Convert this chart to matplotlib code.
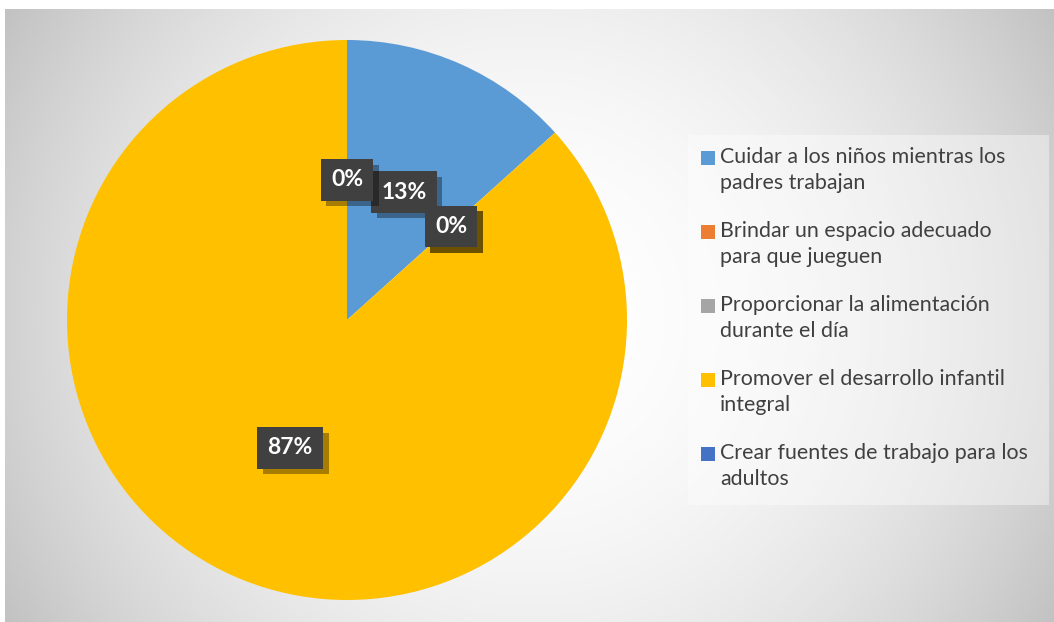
import numpy as np
import matplotlib
matplotlib.use("Agg")
import matplotlib.pyplot as plt
import matplotlib.patheffects as pe
from matplotlib.patches import Rectangle

categories = [
    "Cuidar a los niños mientras los\npadres trabajan",
    "Brindar un espacio adecuado\npara que jueguen",
    "Proporcionar la alimentación\ndurante el día",
    "Promover el desarrollo infantil\nintegral",
    "Crear fuentes de trabajo para los\nadultos",
]
values = [2, 0, 0, 13, 0]
colors = ["#5B9BD5", "#ED7D31", "#A5A5A5", "#FFC000", "#4472C4"]

W, H = 1054, 622
fig = plt.figure(figsize=(W / 100, H / 100), dpi=100)
fig.patch.set_facecolor("white")

# radial gradient background of chart area
x0, y0, x1, y1 = 5, 9, 1054, 622
bg = fig.add_axes([x0 / W, 1 - y1 / H, (x1 - x0) / W, (y1 - y0) / H])
bg.set_axis_off()
xx, yy = np.meshgrid(np.arange(x0, x1), np.arange(y0, y1))
cx, cy = 530, 315
d = np.sqrt(((xx - cx) / 620.0) ** 2 + ((yy - cy) / 620.0) ** 2)
d = np.clip(d, 0, 1)
v = 1.0 - (1.0 - 0.75) * d ** 2
img = np.dstack([v, v, v])
bg.imshow(img, aspect="auto", extent=[0, 1, 0, 1], interpolation="bilinear")
bg.set_xlim(0, 1)
bg.set_ylim(0, 1)

# pie
pcx, pcy, r = 347, 320, 280
ax = fig.add_axes([(pcx - r) / W, (H - pcy - r) / H, 2 * r / W, 2 * r / H])
ax.set_axis_off()
wedges, texts, autotexts = ax.pie(
    values, colors=colors, startangle=90, counterclock=False,
    autopct=lambda p: f"{p:.0f}%", pctdistance=0.5, radius=1.0,
    wedgeprops=dict(linewidth=0),
    textprops=dict(color="white", fontsize=16.5, fontweight="bold", family="Lato"),
)
ax.set_xlim(-1, 1)
ax.set_ylim(-1, 1)
ax.set_aspect("equal")

for t in autotexts:
    t.set_bbox(dict(boxstyle="square,pad=0.45", facecolor="#404040", edgecolor="none"))
    t.set_zorder(5)
    t.get_bbox_patch().set_path_effects([
        pe.SimplePatchShadow(offset=(4, -4), shadow_rgbFace="black", alpha=0.35),
        pe.Normal(),
    ])

# legend box
lx0, ly0, lx1, ly1 = 688, 135, 1049, 505
fig.patches.append(Rectangle((lx0 / W, 1 - ly1 / H), (lx1 - lx0) / W, (ly1 - ly0) / H,
                             transform=fig.transFigure, facecolor="white", alpha=0.4,
                             edgecolor="none", zorder=1))
first_line_y = 158
pitch = 74
for i, (lab, col) in enumerate(zip(categories, colors)):
    yc = first_line_y + i * pitch
    fig.patches.append(Rectangle((701 / W, 1 - (yc + 7) / H), 14 / W, 14 / H,
                                 transform=fig.transFigure, facecolor=col,
                                 edgecolor="none", zorder=2))
    fig.text(720 / W, 1 - (yc - 11) / H, lab, ha="left", va="top", fontsize=15.4,
             family="Lato", color="#404040", linespacing=1.38, zorder=3)

fig.savefig("out.png", dpi=100)
